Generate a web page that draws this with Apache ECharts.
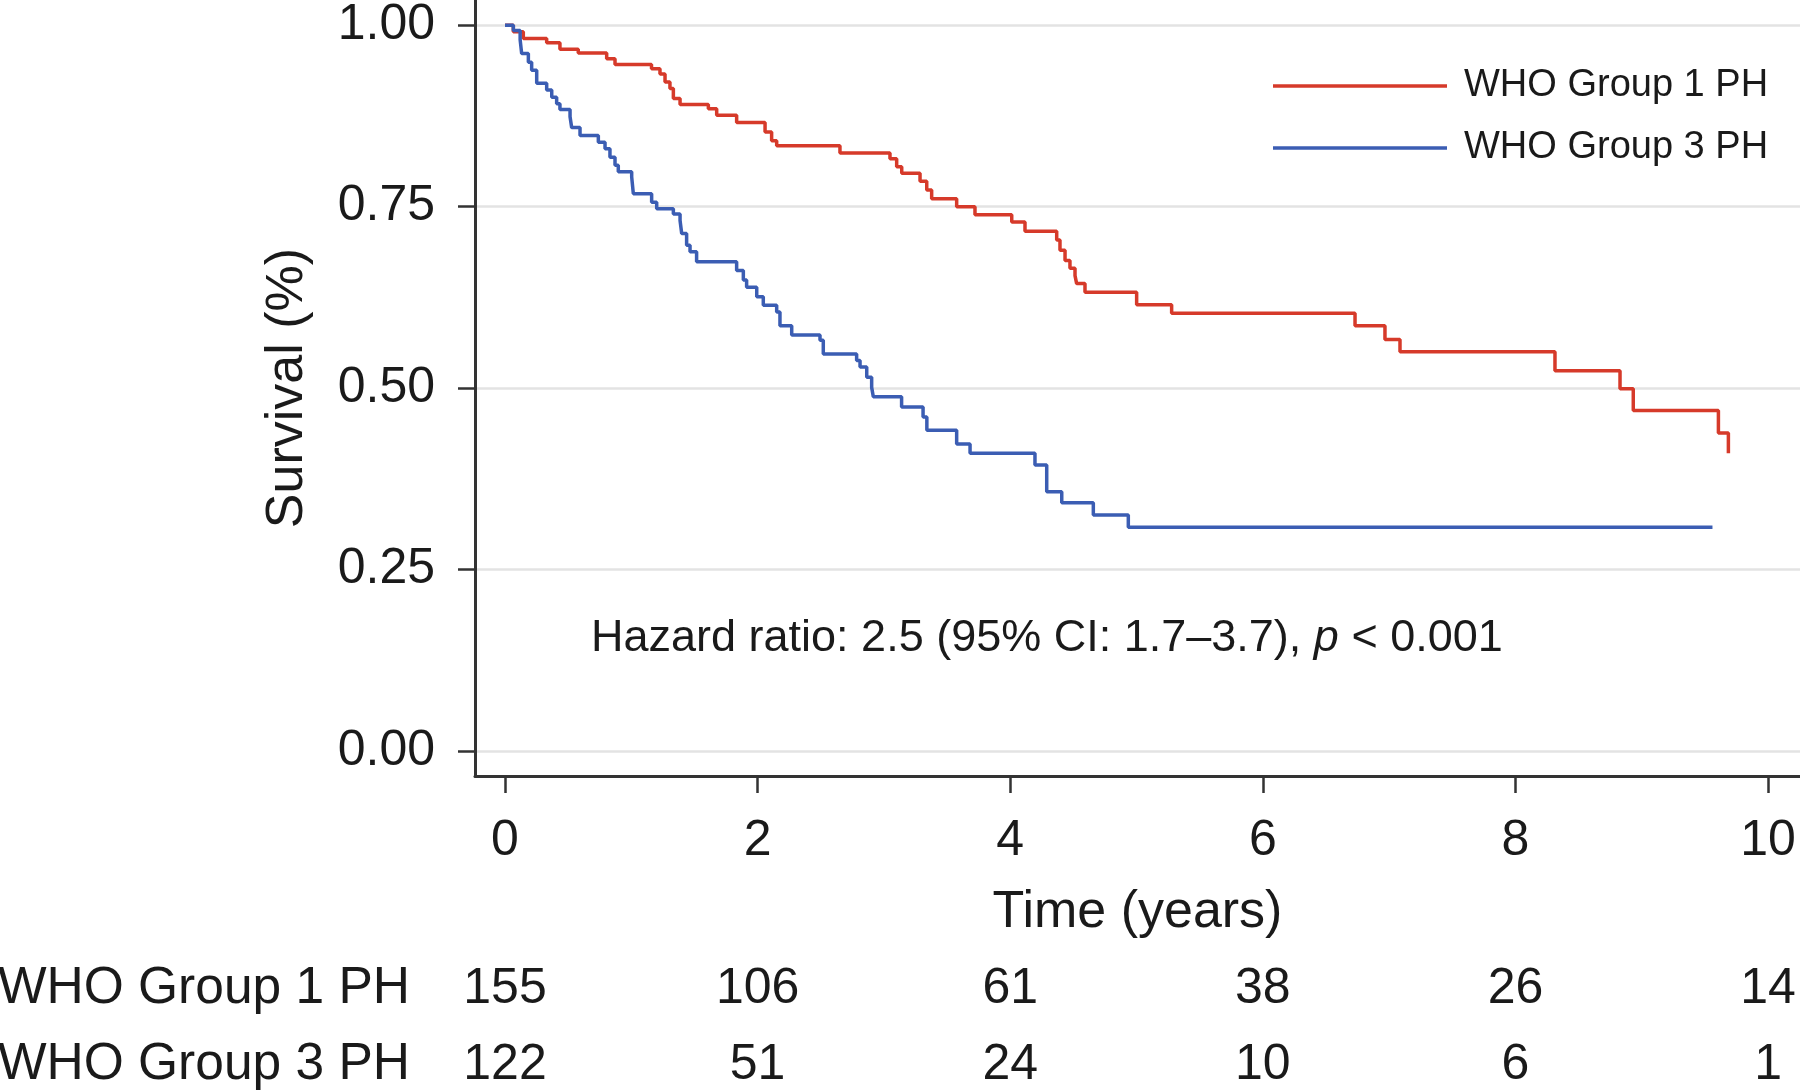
<!DOCTYPE html>
<html><head><meta charset="utf-8">
<script src="https://cdn.jsdelivr.net/npm/echarts@6/dist/echarts.min.js"></script>
<style>html,body{margin:0;padding:0;background:#fff}#c{width:1800px;height:1091px}</style>
</head><body><div id="c"></div>
<script>
const group1Name = 'WHO Group 1 PH';
const group3Name = 'WHO Group 3 PH';

const group1Times = [0, 0.066, 0.145, 0.33, 0.435, 0.58, 0.805, 0.871, 1.16, 1.227, 1.267, 1.306, 1.333, 1.386, 1.61, 1.676, 1.834, 2.059, 2.111, 2.151, 2.652, 3.048, 3.101, 3.141, 3.286, 3.339, 3.378, 3.576, 3.721, 4.012, 4.117, 4.368, 4.394, 4.434, 4.473, 4.513, 4.526, 4.592, 5.001, 5.278, 6.73, 6.967, 7.086, 8.313, 8.828, 8.933, 9.607, 9.686];
const group1Surv  = [1.0, 0.991, 0.982, 0.976, 0.967, 0.962, 0.954, 0.946, 0.940, 0.933, 0.922, 0.913, 0.899, 0.891, 0.885, 0.876, 0.866, 0.853, 0.841, 0.834, 0.824, 0.816, 0.805, 0.796, 0.785, 0.773, 0.761, 0.750, 0.739, 0.729, 0.716, 0.704, 0.690, 0.676, 0.665, 0.655, 0.644, 0.632, 0.615, 0.603, 0.586, 0.567, 0.550, 0.524, 0.499, 0.469, 0.438, 0.410];

const group3Times = [0, 0.066, 0.12, 0.132, 0.185, 0.211, 0.251, 0.33, 0.37, 0.409, 0.435, 0.515, 0.528, 0.594, 0.739, 0.792, 0.831, 0.871, 0.897, 1.003, 1.016, 1.161, 1.201, 1.333, 1.386, 1.399, 1.438, 1.465, 1.517, 1.834, 1.887, 1.913, 1.993, 2.045, 2.151, 2.177, 2.27, 2.494, 2.52, 2.784, 2.811, 2.864, 2.903, 2.916, 3.14, 3.31, 3.34, 3.576, 3.682, 4.196, 4.289, 4.408, 4.658, 4.935, 9.56];
const group3Surv  = [1.0, 0.993, 0.98, 0.961, 0.949, 0.938, 0.920, 0.911, 0.901, 0.892, 0.884, 0.874, 0.859, 0.848, 0.839, 0.830, 0.818, 0.807, 0.798, 0.791, 0.768, 0.756, 0.747, 0.740, 0.731, 0.713, 0.697, 0.688, 0.674, 0.662, 0.649, 0.639, 0.626, 0.614, 0.605, 0.586, 0.573, 0.566, 0.547, 0.538, 0.529, 0.515, 0.501, 0.488, 0.474, 0.460, 0.442, 0.423, 0.410, 0.394, 0.357, 0.342, 0.325, 0.308, 0.308];

const xTicks = [0, 2, 4, 6, 8, 10];
const yTicks = [0, 0.25, 0.5, 0.75, 1];
const riskGroup1 = [155, 106, 61, 38, 26, 14];
const riskGroup3 = [122, 51, 24, 10, 6, 1];

const xTitle = 'Time (years)';
const yTitle = 'Survival (%)';
const hazardText = 'Hazard ratio: 2.5 (95% CI: 1.7\u20133.7), ';

const FONT = "'Liberation Sans', Arial, Helvetica, sans-serif";
const TXT = '#1a1a1a';
const AX = '#333333';
const RED = '#d63a2a';
const BLUE = '#3b5db3';
const X_MIN = -0.2375, X_MAX = 10.253;

function pairs(t, s) { return t.map((v, i) => [v, s[i]]); }
function riskFmt(arr) { return v => String(arr[xTicks.indexOf(Math.round(v))]); }

const rowLabelStyle = {fontSize: 51.5, fontFamily: FONT, color: TXT, fontWeight: 'normal'};

const chart = echarts.init(document.getElementById('c'), null, {renderer: 'canvas'});
chart.setOption({
  animation: false,
  backgroundColor: '#ffffff',
  textStyle: {fontFamily: FONT},
  grid: {left: 475, right: 0, top: 0, bottom: 315, containLabel: false, outerBoundsMode: 'none'},
  title: [
    {
      text: '{a|' + hazardText + '}{i|p}{a| < 0.001}',
      left: 591, top: 616, padding: 0,
      textStyle: {
        fontWeight: 'normal',
        rich: {
          a: {fontSize: 45, fontFamily: FONT, color: TXT, fontWeight: 'normal'},
          i: {fontSize: 45, fontFamily: FONT, color: TXT, fontWeight: 'normal', fontStyle: 'italic'}
        }
      }
    },
    {text: group1Name, right: 1390, top: 963, padding: 0, textStyle: rowLabelStyle},
    {text: group3Name, right: 1390, top: 1039, padding: 0, textStyle: rowLabelStyle}
  ],
  legend: {
    orient: 'vertical', left: 1268, top: 62,
    itemWidth: 174, itemHeight: 3.5, itemGap: 24, icon: 'rect',
    textStyle: {fontSize: 38, fontFamily: FONT, color: TXT, padding: [0, 0, 0, 12]},
    data: [group1Name, group3Name]
  },
  xAxis: [
    {
      type: 'value', min: X_MIN, max: X_MAX, position: 'bottom', nameMoveOverlap: false,
      axisLine: {show: true, onZero: false, lineStyle: {color: AX, width: 3}},
      axisTick: {show: true, customValues: xTicks, length: 17, lineStyle: {color: AX, width: 2.5}},
      axisLabel: {customValues: xTicks, margin: 40, fontSize: 50, fontFamily: FONT, color: TXT},
      splitLine: {show: false},
      name: xTitle, nameLocation: 'middle', nameGap: 111,
      nameTextStyle: {fontSize: 52, fontFamily: FONT, color: TXT}
    },
    {
      type: 'value', min: X_MIN, max: X_MAX, position: 'bottom', offset: 213,
      axisLine: {show: false}, axisTick: {show: false}, splitLine: {show: false},
      axisLabel: {customValues: xTicks, formatter: riskFmt(riskGroup1), margin: 0, verticalAlign: 'middle', fontSize: 50, fontFamily: FONT, color: TXT}
    },
    {
      type: 'value', min: X_MIN, max: X_MAX, position: 'bottom', offset: 289,
      axisLine: {show: false}, axisTick: {show: false}, splitLine: {show: false},
      axisLabel: {customValues: xTicks, formatter: riskFmt(riskGroup3), margin: 0, verticalAlign: 'middle', fontSize: 50, fontFamily: FONT, color: TXT}
    }
  ],
  yAxis: {
    type: 'value', min: -0.0347, max: 1.0349, nameMoveOverlap: false,
    axisLine: {show: true, onZero: false, lineStyle: {color: AX, width: 3}},
    axisTick: {show: true, customValues: yTicks, length: 17, lineStyle: {color: AX, width: 2.5}},
    axisLabel: {customValues: yTicks, margin: 40, fontSize: 50, fontFamily: FONT, color: TXT, formatter: v => v.toFixed(2)},
    splitLine: {show: true, lineStyle: {color: '#e3e3e3', width: 2.5}},
    name: yTitle, nameLocation: 'middle', nameGap: 161, nameRotate: 90,
    nameTextStyle: {fontSize: 52, fontFamily: FONT, color: TXT}
  },
  series: [
    {
      name: group1Name, type: 'line', step: 'end', showSymbol: false, symbol: 'none',
      xAxisIndex: 0, yAxisIndex: 0,
      lineStyle: {color: RED, width: 3.5}, itemStyle: {color: RED},
      data: pairs(group1Times, group1Surv), z: 3
    },
    {
      name: group3Name, type: 'line', step: 'end', showSymbol: false, symbol: 'none',
      xAxisIndex: 0, yAxisIndex: 0,
      lineStyle: {color: BLUE, width: 3.5}, itemStyle: {color: BLUE},
      data: pairs(group3Times, group3Surv), z: 4
    }
  ]
});
</script>
</body></html>
